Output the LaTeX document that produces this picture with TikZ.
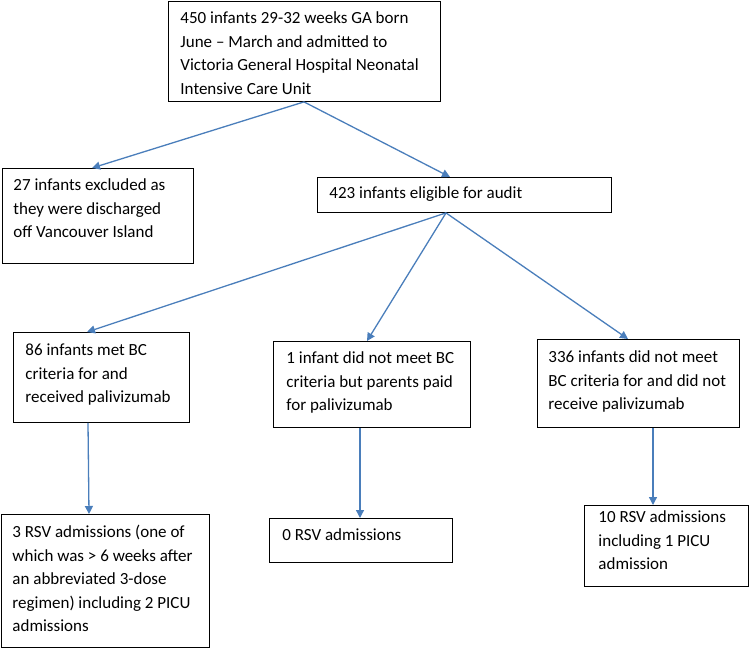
\documentclass[tikz,border=0pt]{standalone}
\usepackage{fontspec}
\setmainfont{Carlito}
\usetikzlibrary{arrows.meta,calc}
\definecolor{arrowblue}{HTML}{4A7EBB}
\newcommand{\boxtxt}[5]{\parbox[c][#2pt][t]{#1pt}{\fontsize{17pt}{23.6pt}\selectfont\raggedright\leftskip=#3pt\relax\rule{0pt}{#4pt}#5\par}}
\tikzset{
  box/.style={draw=black, line width=0.9pt, inner sep=0pt, anchor=north west},
  conn/.style={draw=arrowblue, line width=1.3pt, -{Triangle[length=8pt,width=8pt]}}
}
\begin{document}
\begin{tikzpicture}[x=1pt,y=-1pt]
\useasboundingbox (0,0) rectangle (750,648);
\node[box] (top) at (168,1) {\boxtxt{272}{100}{12}{22}{450 infants 29-32 weeks GA born\\June – March and admitted to\\Victoria General Hospital Neonatal\\Intensive Care Unit}};
\node[box] (ex) at (2,168) {\boxtxt{191}{95}{11}{22}{27 infants excluded as\\they were discharged\\off Vancouver Island}};
\node[box] (el) at (317,177) {\boxtxt{294}{35}{12}{21}{423 infants eligible for audit}};
\node[box] (b1) at (13,332) {\boxtxt{176}{90}{12}{23}{86 infants met BC\\criteria for and\\received palivizumab}};
\node[box] (b2) at (273,341) {\boxtxt{197}{86}{13}{22}{1 infant did not meet BC\\criteria but parents paid\\for palivizumab}};
\node[box] (b3) at (537,339) {\boxtxt{202}{88}{11}{23}{336 infants did not meet\\BC criteria for and did not\\receive palivizumab}};
\node[box] (r1) at (1,514) {\boxtxt{208}{133}{11}{23}{3 RSV admissions (one of\\which was > 6 weeks after\\an abbreviated 3-dose\\regimen) including 2 PICU\\admissions}};
\node[box] (r2) at (269,518) {\boxtxt{183}{44}{13}{22}{0 RSV admissions}};
\node[box] (r3) at (584,505) {\boxtxt{164}{81}{14}{17}{10 RSV admissions\\including 1 PICU\\admission}};
% connectors
\draw[conn] ([xshift=136pt]top.south west) -- ([xshift=90pt]ex.north west);
\draw[conn] ([xshift=136pt]top.south west) -- ([xshift=133pt]el.north west);
\draw[conn] ([xshift=129pt]el.south west) -- ([xshift=74pt]b1.north west);
\draw[conn] ([xshift=129pt]el.south west) -- ([xshift=94pt]b2.north west);
\draw[conn] ([xshift=129pt]el.south west) -- ([xshift=91pt]b3.north west);
\draw[conn] ([xshift=75pt]b1.south west) -- ([xshift=88pt]r1.north west);
\draw[conn] ([xshift=87pt]b2.south west) -- ([xshift=91pt]r2.north west);
\draw[conn] ([xshift=116pt]b3.south west) -- ([xshift=69pt]r3.north west);
\end{tikzpicture}
\end{document}
